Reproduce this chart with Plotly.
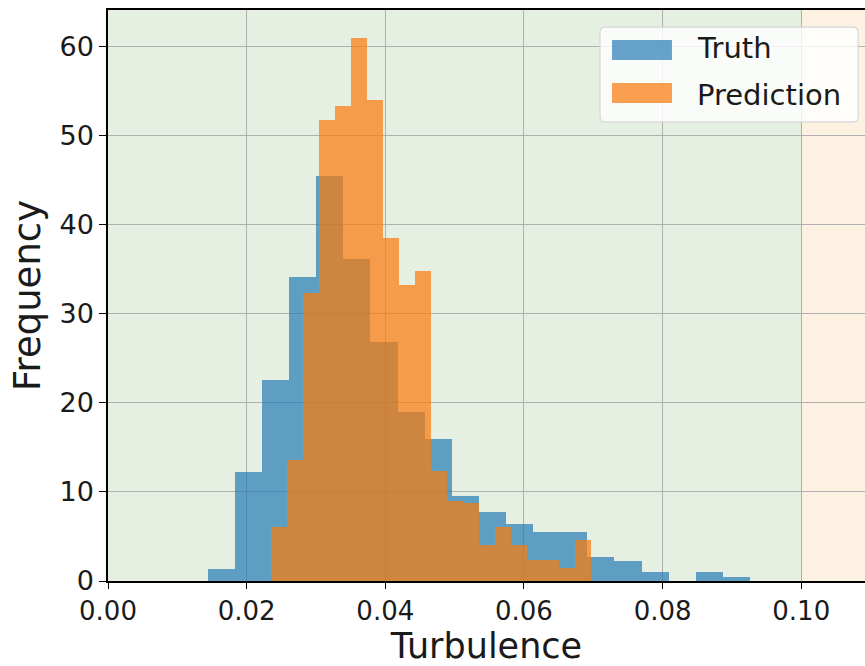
import plotly.graph_objects as go

# ---- data ----
truth_start = 0.01438
truth_width = 0.003912
truth_counts = [1.4, 12.2, 22.6, 34.1, 45.5, 36.1, 26.8, 19.0, 15.9, 9.5,
                7.7, 6.4, 5.5, 5.5, 2.7, 2.2, 1.0, 0.0, 1.0, 0.5]

pred_start = 0.02352
pred_width = 0.002307
pred_counts = [6.1, 13.6, 32.3, 51.8, 53.3, 61.0, 54.0, 38.5, 33.2, 34.8,
               12.4, 9.0, 8.8, 4.0, 6.1, 4.0, 2.4, 2.4, 1.5, 4.6]

x_ticks = [0.00, 0.02, 0.04, 0.06, 0.08, 0.10]
x_tick_labels = ["0.00", "0.02", "0.04", "0.06", "0.08", "0.10"]
y_ticks = [0, 10, 20, 30, 40, 50, 60]
x_max = 0.1092
y_max = 64.1
threshold = 0.10

series_names = ["Truth", "Prediction"]

# ---- styles ----
FONT = "DejaVu Sans"
BLUE = "rgba(31,119,180,0.68)"
ORANGE = "rgba(250,124,14,0.72)"
GREEN_BG = "#e5efe2"
BEIGE_BG = "#fdf2e2"
TXT = "#1a1a1a"

def centers(start, width, n):
    return [start + width * (i + 0.5) for i in range(n)]

fig = go.Figure()
fig.add_trace(go.Bar(
    x=centers(truth_start, truth_width, len(truth_counts)),
    y=truth_counts, width=[truth_width] * len(truth_counts),
    marker=dict(color=BLUE, line=dict(width=0)), name=series_names[0],
    showlegend=False))
fig.add_trace(go.Bar(
    x=centers(pred_start, pred_width, len(pred_counts)),
    y=pred_counts, width=[pred_width] * len(pred_counts),
    marker=dict(color=ORANGE, line=dict(width=0)), name=series_names[1],
    showlegend=False))

# background regions
fig.add_shape(type="rect", xref="x", yref="paper", x0=0, x1=threshold, y0=0, y1=1,
              fillcolor=GREEN_BG, line=dict(width=0), layer="below")
fig.add_shape(type="rect", xref="x", yref="paper", x0=threshold, x1=x_max, y0=0, y1=1,
              fillcolor=BEIGE_BG, line=dict(width=0), layer="below")

# manual legend (matplotlib style), rounded box
lx0, lx1, ly0, ly1 = 0.650, 0.991, 0.804, 0.970
rx, ry = 0.007, 0.009
box_path = (f"M {lx0+rx},{ly0} L {lx1-rx},{ly0} Q {lx1},{ly0} {lx1},{ly0+ry} "
            f"L {lx1},{ly1-ry} Q {lx1},{ly1} {lx1-rx},{ly1} "
            f"L {lx0+rx},{ly1} Q {lx0},{ly1} {lx0},{ly1-ry} "
            f"L {lx0},{ly0+ry} Q {lx0},{ly0} {lx0+rx},{ly0} Z")
fig.add_shape(type="path", xref="paper", yref="paper", path=box_path,
              fillcolor="rgba(255,255,255,0.8)", line=dict(color="#d8d8d8", width=1.2),
              layer="above")
patches = [(0.9475, 0.9124, BLUE), (0.872, 0.837, ORANGE)]
text_y = [0.9335, 0.852]
for (py1, py0, col), ty, name in zip(patches, text_y, series_names):
    fig.add_shape(type="rect", xref="paper", yref="paper", x0=0.6658, x1=0.745,
                  y0=py0, y1=py1, fillcolor=col, line=dict(width=0), layer="above")
    fig.add_annotation(xref="paper", yref="paper", x=0.776, y=ty, text=name,
                       showarrow=False, xanchor="left", yanchor="middle",
                       font=dict(family=FONT, size=29, color=TXT))

fig.update_layout(
    width=865, height=666,
    margin=dict(l=108, r=0, t=10, b=85),
    paper_bgcolor="white", plot_bgcolor="white",
    barmode="overlay", bargap=0,
    font=dict(family=FONT, color=TXT),
)
fig.update_xaxes(
    range=[0, x_max], tickvals=x_ticks, ticktext=x_tick_labels,
    showgrid=True, gridcolor="#b0b0b0", gridwidth=1,
    showline=True, linecolor="black", linewidth=1.5, mirror=True,
    ticks="outside", ticklen=6, tickwidth=1.2, tickcolor="black",
    tickfont=dict(family=FONT, size=26, color=TXT),
    title=dict(text="Turbulence", font=dict(family=FONT, size=35, color=TXT), standoff=11),
    zeroline=False,
)
fig.update_yaxes(
    range=[0, y_max], tickvals=y_ticks,
    showgrid=True, gridcolor="#b0b0b0", gridwidth=1,
    showline=True, linecolor="black", linewidth=1.5,
    ticks="outside", ticklen=7, tickwidth=1.2, tickcolor="black",
    tickfont=dict(family=FONT, size=27, color=TXT),
    title=dict(text="Frequency", font=dict(family=FONT, size=37, color=TXT), standoff=8),
    zeroline=False,
)

fig.write_html("out.html")
